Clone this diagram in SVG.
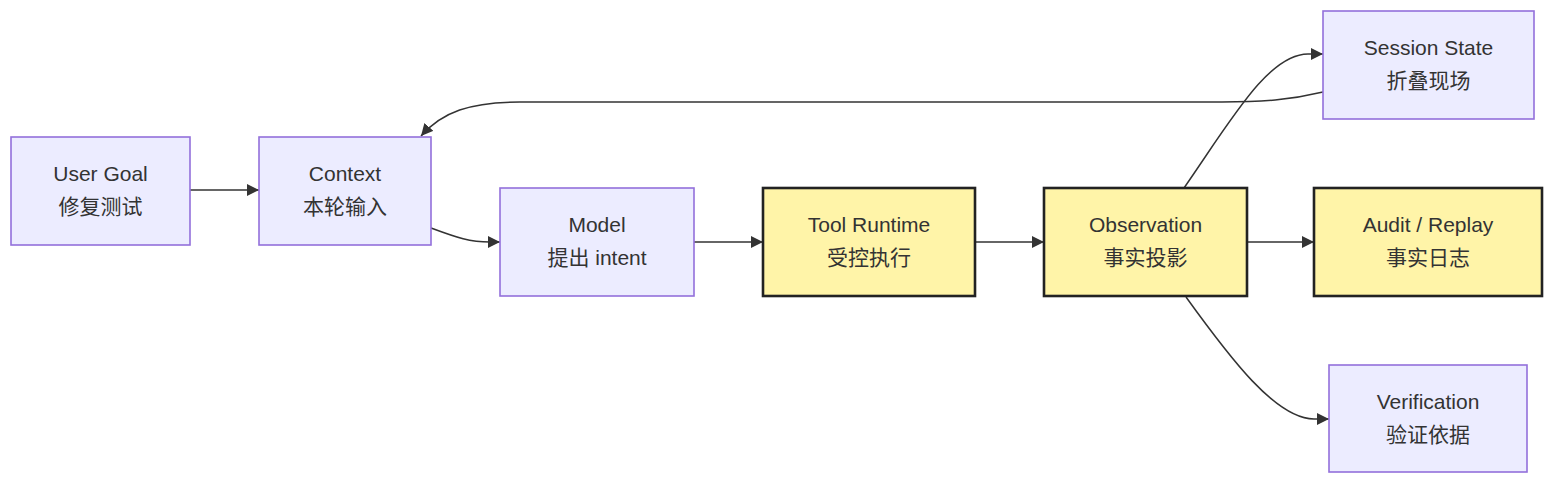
<svg xmlns="http://www.w3.org/2000/svg" width="1568" height="490" viewBox="0 0 1568 490">
<style>
.bg{fill:#ffffff}
.n rect{fill:#ECECFF;stroke:#9370DB;stroke-width:1.6}
.h rect{fill:#FFF4A8;stroke:#222;stroke-width:2.6}
text{font-family:"Liberation Sans","Noto Sans CJK SC",sans-serif;font-size:21px;fill:#333;text-anchor:middle}
.e path{fill:none;stroke:#333;stroke-width:1.5}
</style>
<defs>
<marker id="ar" markerWidth="12" markerHeight="12" refX="10" refY="5" orient="auto" markerUnits="userSpaceOnUse" viewBox="0 0 10 10">
<path d="M0,0 L10,5 L0,10 z" fill="#333"/>
</marker>
</defs>
<rect class="bg" x="0" y="0" width="1568" height="490"/>
<g class="e">
<path d="M190,190 L259,190" marker-end="url(#ar)"/>
<path d="M431,228 C458,238 470,242 490,242 L500,242" marker-end="url(#ar)"/>
<path d="M694,242 L763,242" marker-end="url(#ar)"/>
<path d="M975,242 L1044,242" marker-end="url(#ar)"/>
<path d="M1247,242 L1314,242" marker-end="url(#ar)"/>
<path d="M1184,188 C1230,122 1268,54 1308,54 L1323,54" marker-end="url(#ar)"/>
<path d="M1323,92 C1290,100 1262,102 1222,102 L520,102 C470,102 442,112 421,136" marker-end="url(#ar)"/>
<path d="M1186,297 C1230,358 1276,419 1314,419 L1329,419" marker-end="url(#ar)"/>
</g>
<g id="userGoal" class="n"><rect x="11" y="137" width="179" height="108"/><text x="100.5" y="181">User Goal</text><text x="100.5" y="214">修复测试</text></g>
<g id="context" class="n"><rect x="259" y="137" width="172" height="108"/><text x="345" y="181">Context</text><text x="345" y="214">本轮输入</text></g>
<g id="model" class="n"><rect x="500" y="188" width="194" height="108"/><text x="597" y="232">Model</text><text x="597" y="265">提出 intent</text></g>
<g id="toolRuntime" class="h"><rect x="763" y="188" width="212" height="108"/><text x="869" y="232">Tool Runtime</text><text x="869" y="265">受控执行</text></g>
<g id="observation" class="h"><rect x="1044" y="188" width="203" height="108"/><text x="1145.5" y="232">Observation</text><text x="1145.5" y="265">事实投影</text></g>
<g id="audit" class="h"><rect x="1314" y="188" width="228" height="108"/><text x="1428" y="232">Audit / Replay</text><text x="1428" y="265">事实日志</text></g>
<g id="session" class="n"><rect x="1323" y="11" width="211" height="108"/><text x="1428.5" y="55">Session State</text><text x="1428.5" y="88">折叠现场</text></g>
<g id="verification" class="n"><rect x="1329" y="365" width="198" height="107"/><text x="1428" y="409">Verification</text><text x="1428" y="442">验证依据</text></g>
</svg>
